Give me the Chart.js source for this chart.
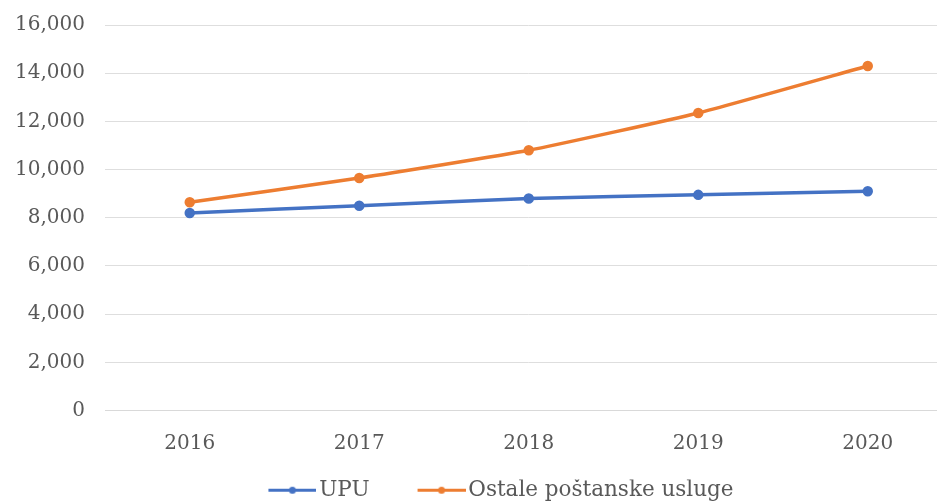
<!DOCTYPE html>
<html>
<head>
<meta charset="utf-8">
<script src="https://cdn.jsdelivr.net/npm/chart.js@4.4.0/dist/chart.umd.min.js"></script>
<style>
  html, body { margin: 0; padding: 0; background: #fff; overflow: hidden; }
  #wrap { width: 960px; height: 510px; margin-top: -7px; }
</style>
</head>
<body>
<div id="wrap"><canvas id="myChart"></canvas></div>
<script>
const years = ['2016', '2017', '2018', '2019', '2020'];
const upu = [8200, 8500, 8800, 8950, 9100];
const ostale = [8640, 9650, 10800, 12350, 14300];
const yTicks = [0, 2000, 4000, 6000, 8000, 10000, 12000, 14000, 16000];

const ctx = document.getElementById('myChart');
const fontFam = 'DejaVu Serif';
const blue = '#4472C4';
const orange = '#ED7D31';

// legend marker: blank gap, then a short line with a dot
function legendMark(color) {
  const c = document.createElement('canvas');
  c.width = 104; c.height = 9;
  const g = c.getContext('2d');
  g.fillStyle = color;
  g.fillRect(56, 3, 48, 3);
  g.beginPath();
  g.arc(80, 4.5, 3.5, 0, Math.PI * 2);
  g.fill();
  return c;
}
const marks = [legendMark(blue), legendMark(orange)];

const shiftLegend = {
  id: 'shiftLegend',
  afterLayout(chart) {
    chart.legend.left -= 3;
    chart.legend.right -= 3;
    chart.legend.top += 8;
    chart.legend.bottom += 8;
  }
};

new Chart(ctx, {
  type: 'line',
  data: {
    labels: years,
    datasets: [{
      label: 'UPU',
      data: upu,
      borderColor: blue,
      backgroundColor: blue,
      borderWidth: 3.5,
      pointRadius: 3.5,
      tension: 0.15
    }, {
      label: 'Ostale poštanske usluge',
      data: ostale,
      borderColor: orange,
      backgroundColor: orange,
      borderWidth: 3.5,
      pointRadius: 3.5,
      tension: 0.15
    }]
  },
  options: {
    responsive: true,
    maintainAspectRatio: false,
    animation: false,
    layout: { padding: { left: 0, right: 0, top: 4, bottom: 0 } },
    plugins: {
      legend: {
        position: 'bottom',
        labels: {
          usePointStyle: true,
          pointStyleWidth: 88,
          color: '#595959',
          font: { family: fontFam, size: 21.5 },
          padding: 0,
          generateLabels: chart => {
            const items = Chart.defaults.plugins.legend.labels.generateLabels(chart);
            items.forEach((it, i) => { it.pointStyle = marks[i]; });
            return items;
          }
        }
      },
      tooltip: { enabled: false }
    },
    scales: {
      x: {
        offset: true,
        grid: { display: false },
        border: { color: '#d9d9d9' },
        afterFit: s => { s.height = 61; },
        ticks: {
          color: '#595959',
          font: { family: fontFam, size: 20 },
          padding: 13
        }
      },
      y: {
        min: 0,
        max: 16000,
        afterBuildTicks: axis => { axis.ticks = yTicks.map(v => ({ value: v })); },
        afterFit: s => { s.width = 105; },
        grid: { color: '#dedede', drawTicks: false },
        border: { display: false },
        ticks: {
          color: '#595959',
          font: { family: fontFam, size: 20 },
          padding: 20,
          callback: v => v.toLocaleString('en-US')
        }
      }
    }
  },
  plugins: [shiftLegend]
});
</script>
</body>
</html>
